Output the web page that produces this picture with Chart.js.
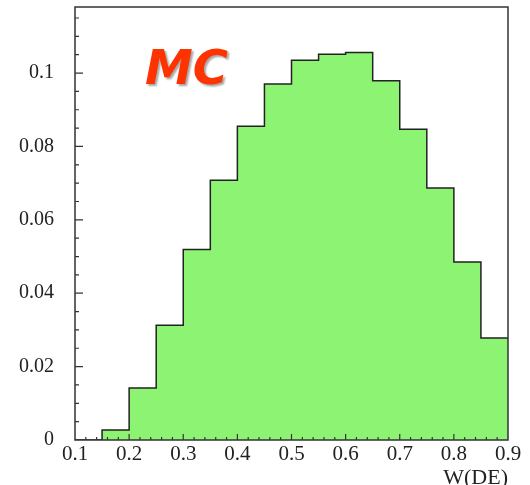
<!DOCTYPE html>
<html>
<head>
<meta charset="utf-8">
<script src="https://cdn.jsdelivr.net/npm/chart.js@4.4.1/dist/chart.umd.min.js"></script>
<style>
  html, body { margin: 0; padding: 0; background: #fff; }
</style>
</head>
<body>
<canvas id="hist-chart" width="530" height="485"></canvas>
<script>
// W(DE) histogram, 16 bins of width 0.05 between 0.1 and 0.9
var binLow = [0.10, 0.15, 0.20, 0.25, 0.30, 0.35, 0.40, 0.45, 0.50, 0.55, 0.60, 0.65, 0.70, 0.75, 0.80, 0.85];
var binWidth = 0.05;
var binValues = [0, 0.0027, 0.0142, 0.0313, 0.0519, 0.0708, 0.0855, 0.0970, 0.1035, 0.1051, 0.1056, 0.0979, 0.0847, 0.0687, 0.0485, 0.0278];

// axis labels
var xTicks = [0.1, 0.2, 0.3, 0.4, 0.5, 0.6, 0.7, 0.8, 0.9];
var yTicks = [0, 0.02, 0.04, 0.06, 0.08, 0.1];

var serif = '"Liberation Serif", "DejaVu Serif", serif';

// each bin becomes a flat segment, so the line comes out as a step outline
var histPoints = [];
for (var i = 0; i < binLow.length; i++) {
  histPoints.push({ x: binLow[i], y: binValues[i] });
  histPoints.push({ x: binLow[i] + binWidth, y: binValues[i] });
}

// box around the plot + inward tick marks (ROOT style) + the MC tag
var framePlugin = {
  id: 'frameAndTicks',
  afterDatasetsDraw: function (chart) {
    var ctx = chart.ctx;
    var a = chart.chartArea;
    var xs = chart.scales.x;
    var ys = chart.scales.y;
    ctx.save();
    ctx.strokeStyle = '#333';
    ctx.lineWidth = 1.5;
    ctx.strokeRect(a.left, a.top, a.right - a.left, a.bottom - a.top);

    ctx.lineWidth = 1.2;
    ctx.beginPath();
    // y ticks every 0.005, long ones every 0.02
    for (var k = 1; k * 0.005 <= ys.max; k++) {
      var py = ys.getPixelForValue(k * 0.005);
      var len = (k % 4 === 0) ? 8 : 4;
      ctx.moveTo(a.left, py);
      ctx.lineTo(a.left + len, py);
    }
    // x ticks every 0.02, long ones every 0.1
    for (var j = 1; j < 40; j++) {
      var px = xs.getPixelForValue(0.1 + j * 0.02);
      var l2 = (j % 5 === 0) ? 6 : 3;
      ctx.moveTo(px, a.bottom);
      ctx.lineTo(px, a.bottom - l2);
    }
    ctx.stroke();

    ctx.font = 'bold italic 48px "DejaVu Sans"';
    ctx.fillStyle = '#ff3300';
    ctx.shadowColor = 'rgba(0,0,0,0.35)';
    ctx.shadowOffsetX = 2;
    ctx.shadowOffsetY = 2;
    ctx.shadowBlur = 2;
    ctx.textBaseline = 'alphabetic';
    ctx.fillText('MC', 145, 84);
    ctx.restore();
  }
};

var chartHist = new Chart(document.getElementById('hist-chart'), {
  type: 'line',
  data: {
    datasets: [
      {
        label: 'MC',
        data: histPoints,
        borderColor: '#222',
        borderWidth: 1.5,
        backgroundColor: '#8cf472',
        fill: 'origin',
        pointRadius: 0,
        tension: 0
      }
    ]
  },
  options: {
    responsive: false,
    animation: false,
    layout: { padding: { top: 7, right: 22, left: 0, bottom: 0 } },
    plugins: {
      legend: { display: false },
      tooltip: { enabled: false }
    },
    scales: {
      x: {
        type: 'linear',
        min: 0.1,
        max: 0.9,
        afterBuildTicks: function (s) { s.ticks = xTicks.map(function (v) { return { value: v }; }); },
        afterFit: function (s) {
          s.height = 45;
          s.paddingLeft = 0;
          s.paddingRight = 0;
        },
        grid: { display: false, drawTicks: false },
        border: { display: false },
        ticks: {
          font: { family: serif, size: 21 },
          color: '#222',
          padding: 2,
          maxRotation: 0,
          autoSkip: false,
          callback: function (v) { return String(v); }
        },
        title: {
          display: true,
          text: 'W(DE)',
          align: 'end',
          color: '#222',
          font: { family: serif, size: 22, lineHeight: 0.6 },
          padding: 0
        }
      },
      y: {
        type: 'linear',
        min: 0,
        max: 0.118,
        afterBuildTicks: function (s) { s.ticks = yTicks.map(function (v) { return { value: v }; }); },
        afterFit: function (s) {
          s.width = 75;
          s.paddingTop = 0;
          s.paddingBottom = 0;
        },
        grid: { display: false, drawTicks: false },
        border: { display: false },
        ticks: {
          font: { family: serif, size: 20 },
          color: '#222',
          padding: 21,
          callback: function (v) { return String(v); }
        }
      }
    }
  },
  plugins: [framePlugin]
});
</script>
</body>
</html>
